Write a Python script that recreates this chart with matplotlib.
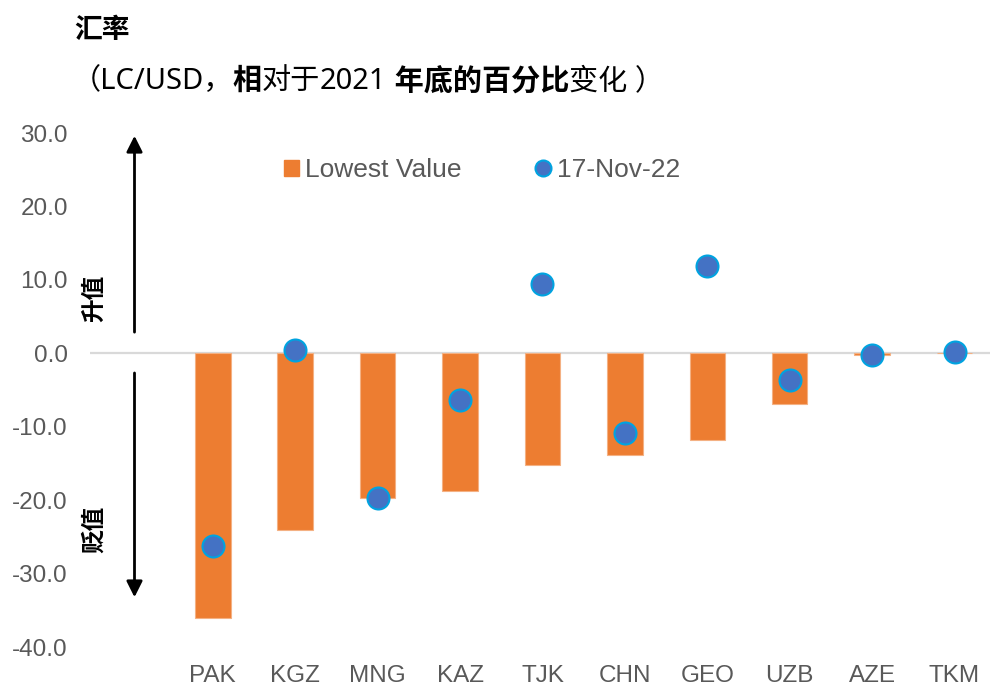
import numpy as np
import matplotlib
matplotlib.use("Agg")
import matplotlib.pyplot as plt
from matplotlib.lines import Line2D
from matplotlib.patches import Patch
from matplotlib.text import Annotation

# --------------------------------------------
# data
# --------------------------------------------
countries = ["PAK", "KGZ", "MNG", "KAZ", "TJK", "CHN", "GEO", "UZB", "AZE", "TKM"]
lowest_value = [-36.1, -24.0, -19.7, -18.7, -15.2, -13.9, -11.8, -6.9, -0.3, 0.0]
nov17_value = [-26.3, 0.4, -19.7, -6.4, 9.5, -10.9, 11.9, -3.6, -0.3, 0.2]
y_ticks = [30, 20, 10, 0, -10, -20, -30, -40]

cjk = ["Noto Sans", "Noto Sans CJK SC", "DejaVu Sans"]
latin = ["Liberation Sans", "DejaVu Sans"]
gray_txt = "#595959"
orange = "#ED7D31"
blue = "#4472C4"
blue_edge = "#00A3E0"

fig = plt.figure(figsize=(9.9, 6.87), dpi=100)
ax = fig.add_axes([0.0909, 0.0582, 0.9091, 0.7482])

x = np.arange(len(countries))
ax.bar(x, lowest_value, width=0.43, color=orange, edgecolor="#F4B183",
       linewidth=0.8, zorder=2)
ax.scatter(x, nov17_value, s=250, color=blue, edgecolors=blue_edge,
           linewidths=1.5, zorder=3)

ax.axhline(0, color="#D9D9D9", linewidth=1.6, zorder=1)

ax.set_xlim(-1.49, 9.43)
ax.set_ylim(-40, 30)
ax.set_yticks(y_ticks)
ax.set_yticklabels([f"{v:.1f}" for v in y_ticks], family=latin, fontsize=17.5, color=gray_txt)
ax.set_xticks(x)
ax.set_xticklabels(countries, family=latin, fontsize=17.5, color=gray_txt)
ax.tick_params(axis="both", length=0)
ax.tick_params(axis="y", pad=16)
ax.tick_params(axis="x", pad=13)
for s in ax.spines.values():
    s.set_visible(False)

# arrows showing appreciation / depreciation
arrow_x = -0.95
ax.annotate("", xy=(arrow_x, 30), xytext=(arrow_x, 2.5),
            arrowprops=dict(arrowstyle="-|>", color="black", lw=2, mutation_scale=24))
ax.annotate("", xy=(arrow_x, -33.6), xytext=(arrow_x, -2.3),
            arrowprops=dict(arrowstyle="-|>", color="black", lw=2, mutation_scale=24))
ax.text(-1.43, 7.5, "升值", rotation=90, ha="center", va="center",
        family=cjk, fontsize=17, fontweight="bold")
ax.text(-1.43, -24, "贬值", rotation=90, ha="center", va="center",
        family=cjk, fontsize=17, fontweight="bold")

# legend: bars first, then the dots
handles = [Patch(facecolor=orange, edgecolor=orange),
           Line2D([], [], linestyle="", marker="o", markersize=11.5,
                  markerfacecolor=blue, markeredgecolor=blue_edge, markeredgewidth=1.5)]
leg = fig.legend(handles, ["Lowest Value", "17-Nov-22"], loc="center",
                 bbox_to_anchor=(0.487, 0.7525), ncol=2, frameon=False,
                 prop={"family": latin, "size": 19}, columnspacing=2.8,
                 handlelength=0.55, handleheight=0.55, handletextpad=0.25)
for t in leg.get_texts():
    t.set_color(gray_txt)

# title and subtitle
fig.text(0.075, 0.955, "汇率", family=cjk, fontsize=20, fontweight="bold",
         va="center", ha="left")
parts = [("（LC/USD，", "normal"), ("相", "bold"), ("对于", "normal"),
         ("2021", "normal"), (" 年底的百分比", "bold"), ("变化 ）", "normal")]
anchor = fig.text(0.072, 0.860, parts[0][0], family=cjk, fontsize=21,
                  fontweight=parts[0][1], va="bottom", ha="left")
# chain the remaining pieces so each one follows the previous one
for txt, w in parts[1:]:
    anchor = fig.add_artist(Annotation(
        txt, xy=(1, 0), xycoords=anchor, xytext=(0, 0),
        textcoords="offset points", family=cjk, fontsize=21,
        fontweight=w, va="bottom", ha="left", annotation_clip=False))

fig.savefig("out.png", dpi=100)
